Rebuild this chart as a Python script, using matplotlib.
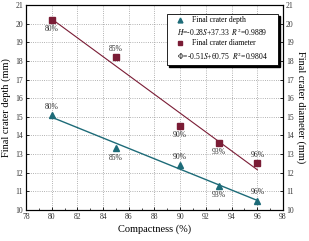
import matplotlib.pyplot as plt
import numpy as np
from matplotlib.patches import Rectangle

# compactness (%) and measured crater sizes (mm)
compactness = [80, 85, 90, 93, 96]
depth = [15.1, 13.3, 12.4, 11.3, 10.5]
diameter = [20.2, 18.2, 14.5, 13.6, 12.5]
pct_labels = ['80%', '85%', '90%', '93%', '96%']
depth_lbl_dy = [0.45, -0.5, 0.45, -0.5, 0.45]
diam_lbl_dy = [-0.5, 0.45, -0.5, -0.5, 0.45]

depth_eq = '$H$=-0.28$S$+37.33  $R^2$=0.9889'
diam_eq = r'$\Phi$=-0.51$S$+60.75  $R^2$=0.9804'

c_depth = '#1d6b78'
c_diam = '#7a1c35'

plt.rcParams['font.family'] = ['Liberation Serif', 'DejaVu Serif']
plt.rcParams['mathtext.fontset'] = 'stix'

fig = plt.figure(figsize=(3.09, 2.41), dpi=100)
ax = fig.add_axes([0.084, 0.129, 0.832, 0.85])
ax2 = ax.twinx()

# linear fits
x = np.array(compactness)
pd_ = np.polyfit(x, depth, 1)
pm_ = np.polyfit(x, diameter, 1)
ax.plot(x, np.polyval(pd_, x), color=c_depth, lw=1.0, zorder=2)
ax2.plot(x, np.polyval(pm_, x), color=c_diam, lw=0.8, zorder=2)
ax.plot(compactness, depth, '^', color=c_depth, ms=4.5, zorder=3)
ax2.plot(compactness, diameter, 's', color=c_diam, ms=4, zorder=3)

for xi, yi, t, dy in zip(compactness, depth, pct_labels, depth_lbl_dy):
    ax.text(xi, yi + dy, t, ha='center', va='center', fontsize=5.5, color='#333333')
for xi, yi, t, dy in zip(compactness, diameter, pct_labels, diam_lbl_dy):
    ax2.text(xi, yi + dy, t, ha='center', va='center', fontsize=5.5, color='#333333')

for a in (ax, ax2):
    a.set_xlim(78, 98)
    a.set_ylim(10, 21)
    a.set_yticks(range(10, 22))
    a.tick_params(direction='in', labelsize=5.5, length=2.5, width=0.6,
                  labelcolor='#333333', pad=2)
ax.set_xticks(range(78, 99, 2))
ax.set_xticks(range(78, 99, 1), minor=True)
ax.tick_params(axis='x', which='minor', direction='in', length=1.5, width=0.5)
ax.grid(True, ls=':', lw=0.6, color='#999999')

ax.set_xlabel('Compactness (%)', fontsize=7.5, labelpad=3)
ax.set_ylabel('Final crater depth (mm)', fontsize=7.5, labelpad=3)
ax2.set_ylabel('Final crater diameter (mm)', fontsize=7.5, rotation=270, labelpad=9)
for s in ax.spines.values():
    s.set_linewidth(0.8)

# legend box with shadow
tr = ax.transAxes
ax.add_patch(Rectangle((0.557, 0.697), 0.432, 0.249, transform=tr, facecolor='black',
                       edgecolor='black', zorder=4, clip_on=False))
ax.add_patch(Rectangle((0.549, 0.707), 0.432, 0.249, transform=tr, facecolor='white',
                       edgecolor='black', lw=0.6, zorder=5, clip_on=False))
ax.plot([0.599], [0.927], '^', color=c_depth, ms=3.5, transform=tr, zorder=6, clip_on=False)
ax.plot([0.599], [0.815], 's', color=c_diam, ms=3, transform=tr, zorder=6, clip_on=False)
ax.text(0.645, 0.927, 'Final crater depth', transform=tr, fontsize=5.5, va='center', zorder=6)
ax.text(0.765, 0.866, depth_eq, transform=tr, fontsize=5.5, va='center', ha='center', zorder=6)
ax.text(0.645, 0.815, 'Final crater diameter', transform=tr, fontsize=5.5, va='center', zorder=6)
ax.text(0.765, 0.748, diam_eq, transform=tr, fontsize=5.5, va='center', ha='center', zorder=6)

fig.savefig('out.png', dpi=100)
